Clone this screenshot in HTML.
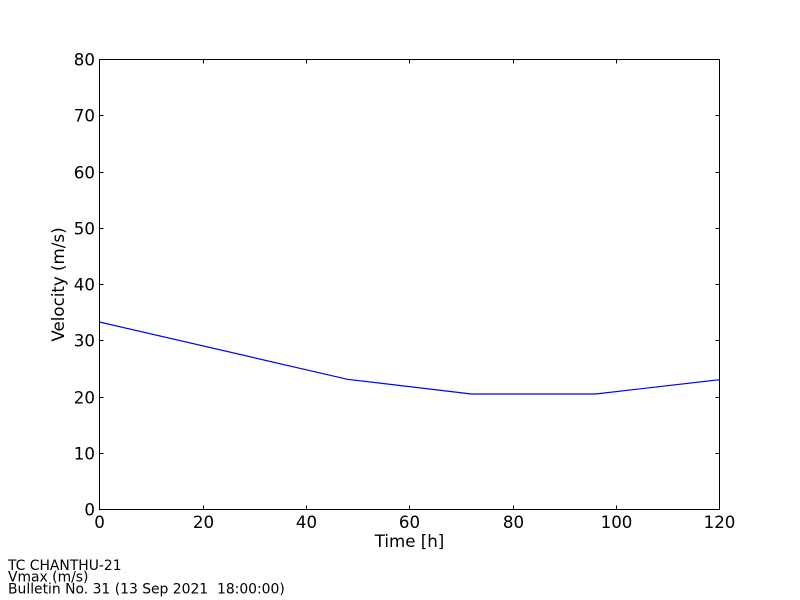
<!DOCTYPE html>
<html>
<head>
<meta charset="utf-8">
<style>
html,body{margin:0;padding:0;background:#fff;}
svg{display:block;}
text{font-family:"DejaVu Sans","Liberation Sans",sans-serif;fill:#000;}
</style>
</head>
<body>
<svg width="800" height="600" viewBox="0 0 800 600" xmlns="http://www.w3.org/2000/svg">
<rect x="0" y="0" width="800" height="600" fill="#fff"/>
<!-- data line -->
<polyline fill="none" stroke="#0000ff" stroke-width="1.2" points="99.5,322 347.5,379.3 471.5,394 595.5,394 719.5,379.7"/>
<!-- frame -->
<rect x="99.5" y="59.5" width="620" height="450" fill="none" stroke="#000" stroke-width="1"/>
<!-- x ticks -->
<g stroke="#000" stroke-width="1">
<line x1="203.5" y1="509.5" x2="203.5" y2="505.5"/><line x1="203.5" y1="59.5" x2="203.5" y2="63.5"/>
<line x1="306.5" y1="509.5" x2="306.5" y2="505.5"/><line x1="306.5" y1="59.5" x2="306.5" y2="63.5"/>
<line x1="409.5" y1="509.5" x2="409.5" y2="505.5"/><line x1="409.5" y1="59.5" x2="409.5" y2="63.5"/>
<line x1="513.5" y1="509.5" x2="513.5" y2="505.5"/><line x1="513.5" y1="59.5" x2="513.5" y2="63.5"/>
<line x1="616.5" y1="509.5" x2="616.5" y2="505.5"/><line x1="616.5" y1="59.5" x2="616.5" y2="63.5"/>
<!-- y ticks -->
<line x1="99.5" y1="453.5" x2="103.5" y2="453.5"/><line x1="719.5" y1="453.5" x2="715.5" y2="453.5"/>
<line x1="99.5" y1="397.5" x2="103.5" y2="397.5"/><line x1="719.5" y1="397.5" x2="715.5" y2="397.5"/>
<line x1="99.5" y1="340.5" x2="103.5" y2="340.5"/><line x1="719.5" y1="340.5" x2="715.5" y2="340.5"/>
<line x1="99.5" y1="284.5" x2="103.5" y2="284.5"/><line x1="719.5" y1="284.5" x2="715.5" y2="284.5"/>
<line x1="99.5" y1="228.5" x2="103.5" y2="228.5"/><line x1="719.5" y1="228.5" x2="715.5" y2="228.5"/>
<line x1="99.5" y1="172.5" x2="103.5" y2="172.5"/><line x1="719.5" y1="172.5" x2="715.5" y2="172.5"/>
<line x1="99.5" y1="115.5" x2="103.5" y2="115.5"/><line x1="719.5" y1="115.5" x2="715.5" y2="115.5"/>
</g>
<!-- x tick labels -->
<g font-size="16.67" text-anchor="middle">
<text x="99.5" y="528">0</text>
<text x="203.5" y="528">20</text>
<text x="306.5" y="528">40</text>
<text x="409.5" y="528">60</text>
<text x="513.5" y="528">80</text>
<text x="616.5" y="528">100</text>
<text x="719.5" y="528">120</text>
</g>
<!-- y tick labels -->
<g font-size="16.67" text-anchor="end">
<text x="95" y="515.5">0</text>
<text x="95" y="459.5">10</text>
<text x="95" y="403.5">20</text>
<text x="95" y="346.5">30</text>
<text x="95" y="290.5">40</text>
<text x="95" y="234.5">50</text>
<text x="95" y="178.5">60</text>
<text x="95" y="121.5">70</text>
<text x="95" y="65.5">80</text>
</g>
<!-- axis labels -->
<text x="409.5" y="547" font-size="16.67" text-anchor="middle">Time [h]</text>
<text transform="translate(64,284.5) rotate(-90)" x="0" y="0" font-size="16.67" text-anchor="middle">Velocity (m/s)</text>
<!-- footer -->
<g font-size="13.9">
<text x="8" y="570">TC CHANTHU-21</text>
<text x="8" y="581.7">Vmax (m/s)</text>
<text x="8" y="593.3" xml:space="preserve">Bulletin No. 31 (13 Sep 2021  18:00:00)</text>
</g>
</svg>
</body>
</html>
